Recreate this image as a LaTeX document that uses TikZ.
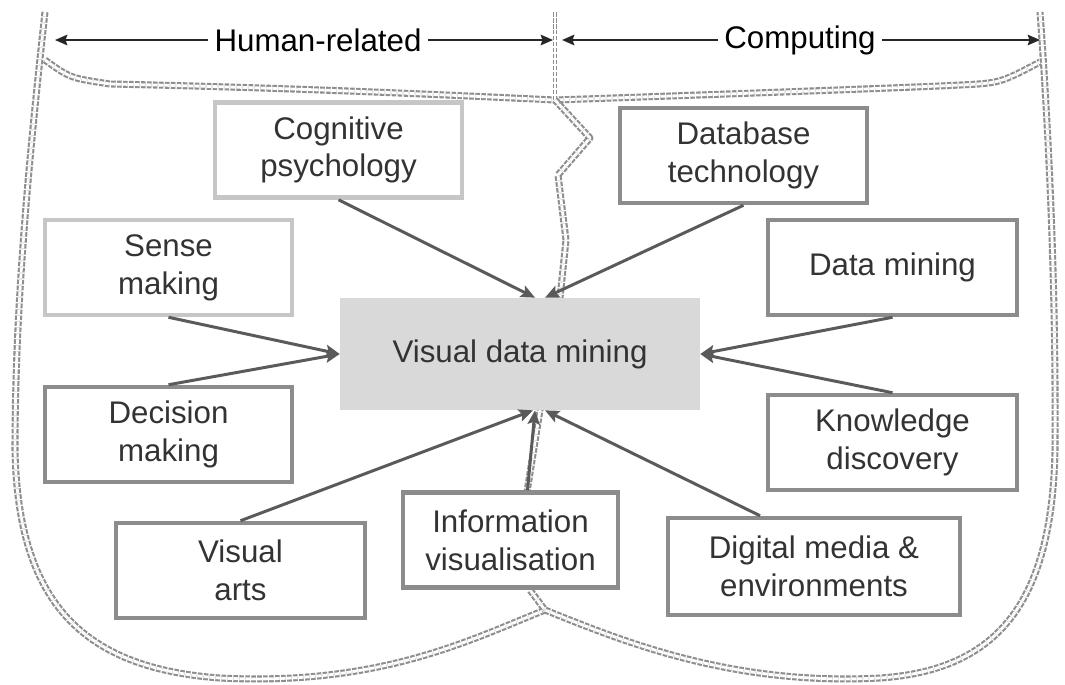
\documentclass[tikz,border=0pt]{standalone}
\usepackage{fontspec}
\setmainfont{Liberation Sans}
\usetikzlibrary{arrows.meta}

\definecolor{boxline}{HTML}{8C8C8C}
\definecolor{paleline}{HTML}{C6C6C6}
\definecolor{arrowgray}{HTML}{5A5A5A}
\definecolor{hubfill}{HTML}{D9D9D9}
\definecolor{seamgray}{HTML}{8E8E8E}

\begin{document}
\begin{tikzpicture}[x=0.02cm, y=-0.02cm,
    every node/.style={font=\fontsize{17.8}{21.5}\selectfont, text=black!80},
    field/.style={draw=boxline, line width=2.6pt, fill=white, align=center,
        inner sep=0pt, minimum width=4.94cm, minimum height=1.9cm},
    pale/.style={field, draw=paleline},
    hub/.style={fill=hubfill, minimum width=7.2cm, minimum height=2.24cm},
    seam/.style={draw=seamgray, line width=1.2pt, double=white, double distance=1.6pt,
        dash pattern=on 2.6pt off 0.8pt, line join=round},
    feed/.style={draw=arrowgray, line width=1.7pt, -{Stealth[length=8pt, width=7pt, inset=1.5pt]}},
    span/.style={draw=black!85, line width=1.1pt, -{Stealth[length=7pt, width=6pt, inset=1pt]}}]

    \useasboundingbox (0,0) rectangle (1065,684);

    % outer frame and the split between the two halves
    \draw[seam] (45,12) .. controls (30,150) and (15,300) .. (15,450)
        .. controls (18,600) and (80,668) .. (220,678)
        .. controls (380,686) and (470,640) .. (545,610)
        .. controls (620,640) and (730,686) .. (880,678)
        .. controls (1000,670) and (1052,600) .. (1055,450)
        .. controls (1056,300) and (1050,150) .. (1040,12);
    \draw[seam] (45,60) .. controls (70,78) .. (110,84)
        .. controls (300,88) and (450,95) .. (555,100)
        .. controls (700,95) and (900,88) .. (960,85)
        .. controls (1000,83) .. (1040,62);
    \draw[seam, line width=0.8pt, double distance=1.2pt] (555,12) -- (555,100);
    \draw[seam] (555,100) -- (590,138) -- (558,175) -- (566,240)
        -- (560,298) -- (540,410) -- (527,492) -- (530,590) -- (545,610);

    % headings
    \node[text=black] (hum) at (318,40) {Human-related};
    \node[text=black] (comp) at (800,40) {Computing};
    \coordinate (lend) at (55,40);
    \coordinate (midl) at (553,40);
    \coordinate (midr) at (562,40);
    \coordinate (rend) at (1040,40);
    \draw[span] (hum) -- (lend);
    \draw[span] (hum) -- (midl);
    \draw[span] (comp) -- (midr);
    \draw[span] (comp) -- (rend);

    \node[hub] (vdm) at (520,354) {Visual data mining};

    \node[pale] (cog) at (338.5,150) {Cognitive\\psychology};
    \node[field] (dbt) at (743.5,155.5) {Database\\technology};
    \node[pale] (sense) at (168.5,267.5) {Sense\\making};
    \node[field, minimum width=4.98cm] (dm) at (892.5,267.5) {Data mining};
    \node[field] (dec) at (168.5,434.5) {Decision\\making};
    \node[field, minimum width=4.98cm] (kd) at (892.5,442.5) {Knowledge\\discovery};
    \node[field, minimum width=4.98cm] (va) at (240.5,570.5) {Visual\\arts};
    \node[field, minimum width=4.3cm] (iv) at (510.5,540) {Information\\visualisation};
    \node[field, minimum width=5.84cm, minimum height=1.94cm] (dme) at (814,566.5) {Digital media \&\\environments};

    \draw[feed] (cog.south) -- ([xshift=0.3cm]vdm.north);
    \draw[feed] (dbt.south) -- ([xshift=0.5cm]vdm.north);
    \draw[feed] (sense.south) -- (vdm.west);
    \draw[feed] (dec.north) -- (vdm.west);
    \draw[feed] (dm.south) -- (vdm.east);
    \draw[feed] (kd.north) -- (vdm.east);
    \draw[feed] (va.north) -- ([xshift=0.26cm]vdm.south);
    \draw[feed] ([xshift=0.34cm]iv.north) -- ([xshift=0.3cm]vdm.south);
    \draw[feed] ([xshift=-1.08cm]dme.north) -- ([xshift=0.5cm]vdm.south);
\end{tikzpicture}
\end{document}
